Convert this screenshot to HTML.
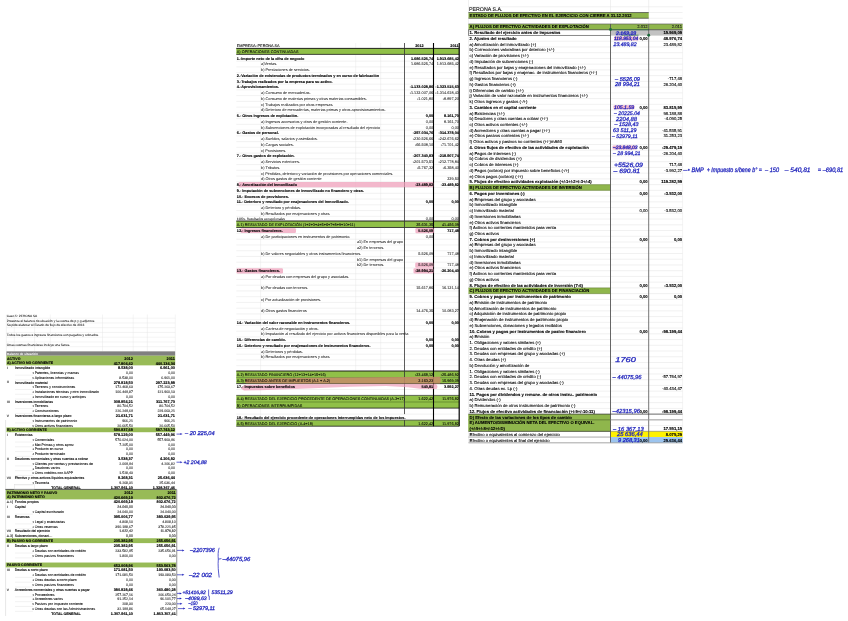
<!DOCTYPE html>
<html lang="es">
<head>
<meta charset="utf-8">
<title>PERONA S.A. - Estado de flujos de efectivo</title>
<style>
html,body{margin:0;padding:0;background:#fff;}
body{width:848px;height:621px;overflow:hidden;font-family:"Liberation Sans",sans-serif;}
svg{display:block;}
svg text{white-space:pre;}
</style>
</head>
<body>
<svg width="848" height="621" viewBox="0 0 848 621" font-family="'Liberation Sans', sans-serif" text-rendering="geometricPrecision">
<rect width="848" height="621" fill="#fff"/>
<g id="gridl">
<line x1="468.50" y1="6.79" x2="682.60" y2="6.79" stroke="#e2e2e2" stroke-width="0.5"/>
<line x1="468.50" y1="12.53" x2="682.60" y2="12.53" stroke="#e2e2e2" stroke-width="0.5"/>
<line x1="468.50" y1="18.26" x2="682.60" y2="18.26" stroke="#e2e2e2" stroke-width="0.5"/>
<line x1="468.50" y1="24.00" x2="682.60" y2="24.00" stroke="#e2e2e2" stroke-width="0.5"/>
<line x1="468.50" y1="29.74" x2="682.60" y2="29.74" stroke="#e2e2e2" stroke-width="0.5"/>
<line x1="468.50" y1="35.48" x2="682.60" y2="35.48" stroke="#e2e2e2" stroke-width="0.5"/>
<line x1="468.50" y1="41.21" x2="682.60" y2="41.21" stroke="#e2e2e2" stroke-width="0.5"/>
<line x1="468.50" y1="46.95" x2="682.60" y2="46.95" stroke="#e2e2e2" stroke-width="0.5"/>
<line x1="468.50" y1="52.69" x2="682.60" y2="52.69" stroke="#e2e2e2" stroke-width="0.5"/>
<line x1="468.50" y1="58.42" x2="682.60" y2="58.42" stroke="#e2e2e2" stroke-width="0.5"/>
<line x1="468.50" y1="64.16" x2="682.60" y2="64.16" stroke="#e2e2e2" stroke-width="0.5"/>
<line x1="468.50" y1="69.90" x2="682.60" y2="69.90" stroke="#e2e2e2" stroke-width="0.5"/>
<line x1="468.50" y1="75.63" x2="682.60" y2="75.63" stroke="#e2e2e2" stroke-width="0.5"/>
<line x1="468.50" y1="81.37" x2="682.60" y2="81.37" stroke="#e2e2e2" stroke-width="0.5"/>
<line x1="468.50" y1="87.11" x2="682.60" y2="87.11" stroke="#e2e2e2" stroke-width="0.5"/>
<line x1="468.50" y1="92.85" x2="682.60" y2="92.85" stroke="#e2e2e2" stroke-width="0.5"/>
<line x1="468.50" y1="98.58" x2="682.60" y2="98.58" stroke="#e2e2e2" stroke-width="0.5"/>
<line x1="468.50" y1="104.32" x2="682.60" y2="104.32" stroke="#e2e2e2" stroke-width="0.5"/>
<line x1="468.50" y1="110.06" x2="682.60" y2="110.06" stroke="#e2e2e2" stroke-width="0.5"/>
<line x1="468.50" y1="115.79" x2="682.60" y2="115.79" stroke="#e2e2e2" stroke-width="0.5"/>
<line x1="468.50" y1="121.53" x2="682.60" y2="121.53" stroke="#e2e2e2" stroke-width="0.5"/>
<line x1="468.50" y1="127.27" x2="682.60" y2="127.27" stroke="#e2e2e2" stroke-width="0.5"/>
<line x1="468.50" y1="133.00" x2="682.60" y2="133.00" stroke="#e2e2e2" stroke-width="0.5"/>
<line x1="468.50" y1="138.74" x2="682.60" y2="138.74" stroke="#e2e2e2" stroke-width="0.5"/>
<line x1="468.50" y1="144.48" x2="682.60" y2="144.48" stroke="#e2e2e2" stroke-width="0.5"/>
<line x1="468.50" y1="150.22" x2="682.60" y2="150.22" stroke="#e2e2e2" stroke-width="0.5"/>
<line x1="468.50" y1="155.95" x2="682.60" y2="155.95" stroke="#e2e2e2" stroke-width="0.5"/>
<line x1="468.50" y1="161.69" x2="682.60" y2="161.69" stroke="#e2e2e2" stroke-width="0.5"/>
<line x1="468.50" y1="167.43" x2="682.60" y2="167.43" stroke="#e2e2e2" stroke-width="0.5"/>
<line x1="468.50" y1="173.16" x2="682.60" y2="173.16" stroke="#e2e2e2" stroke-width="0.5"/>
<line x1="468.50" y1="178.90" x2="682.60" y2="178.90" stroke="#e2e2e2" stroke-width="0.5"/>
<line x1="468.50" y1="184.64" x2="682.60" y2="184.64" stroke="#e2e2e2" stroke-width="0.5"/>
<line x1="468.50" y1="190.37" x2="682.60" y2="190.37" stroke="#e2e2e2" stroke-width="0.5"/>
<line x1="468.50" y1="196.11" x2="682.60" y2="196.11" stroke="#e2e2e2" stroke-width="0.5"/>
<line x1="468.50" y1="201.85" x2="682.60" y2="201.85" stroke="#e2e2e2" stroke-width="0.5"/>
<line x1="468.50" y1="207.59" x2="682.60" y2="207.59" stroke="#e2e2e2" stroke-width="0.5"/>
<line x1="468.50" y1="213.32" x2="682.60" y2="213.32" stroke="#e2e2e2" stroke-width="0.5"/>
<line x1="468.50" y1="219.06" x2="682.60" y2="219.06" stroke="#e2e2e2" stroke-width="0.5"/>
<line x1="468.50" y1="224.80" x2="682.60" y2="224.80" stroke="#e2e2e2" stroke-width="0.5"/>
<line x1="468.50" y1="230.53" x2="682.60" y2="230.53" stroke="#e2e2e2" stroke-width="0.5"/>
<line x1="468.50" y1="236.27" x2="682.60" y2="236.27" stroke="#e2e2e2" stroke-width="0.5"/>
<line x1="468.50" y1="242.01" x2="682.60" y2="242.01" stroke="#e2e2e2" stroke-width="0.5"/>
<line x1="468.50" y1="247.74" x2="682.60" y2="247.74" stroke="#e2e2e2" stroke-width="0.5"/>
<line x1="468.50" y1="253.48" x2="682.60" y2="253.48" stroke="#e2e2e2" stroke-width="0.5"/>
<line x1="468.50" y1="259.22" x2="682.60" y2="259.22" stroke="#e2e2e2" stroke-width="0.5"/>
<line x1="468.50" y1="264.96" x2="682.60" y2="264.96" stroke="#e2e2e2" stroke-width="0.5"/>
<line x1="468.50" y1="270.69" x2="682.60" y2="270.69" stroke="#e2e2e2" stroke-width="0.5"/>
<line x1="468.50" y1="276.43" x2="682.60" y2="276.43" stroke="#e2e2e2" stroke-width="0.5"/>
<line x1="468.50" y1="282.17" x2="682.60" y2="282.17" stroke="#e2e2e2" stroke-width="0.5"/>
<line x1="468.50" y1="287.90" x2="682.60" y2="287.90" stroke="#e2e2e2" stroke-width="0.5"/>
<line x1="468.50" y1="293.64" x2="682.60" y2="293.64" stroke="#e2e2e2" stroke-width="0.5"/>
<line x1="468.50" y1="299.38" x2="682.60" y2="299.38" stroke="#e2e2e2" stroke-width="0.5"/>
<line x1="468.50" y1="305.11" x2="682.60" y2="305.11" stroke="#e2e2e2" stroke-width="0.5"/>
<line x1="468.50" y1="310.85" x2="682.60" y2="310.85" stroke="#e2e2e2" stroke-width="0.5"/>
<line x1="468.50" y1="316.59" x2="682.60" y2="316.59" stroke="#e2e2e2" stroke-width="0.5"/>
<line x1="468.50" y1="322.33" x2="682.60" y2="322.33" stroke="#e2e2e2" stroke-width="0.5"/>
<line x1="468.50" y1="328.06" x2="682.60" y2="328.06" stroke="#e2e2e2" stroke-width="0.5"/>
<line x1="468.50" y1="333.80" x2="682.60" y2="333.80" stroke="#e2e2e2" stroke-width="0.5"/>
<line x1="468.50" y1="339.54" x2="682.60" y2="339.54" stroke="#e2e2e2" stroke-width="0.5"/>
<line x1="468.50" y1="345.27" x2="682.60" y2="345.27" stroke="#e2e2e2" stroke-width="0.5"/>
<line x1="468.50" y1="351.01" x2="682.60" y2="351.01" stroke="#e2e2e2" stroke-width="0.5"/>
<line x1="468.50" y1="356.75" x2="682.60" y2="356.75" stroke="#e2e2e2" stroke-width="0.5"/>
<line x1="468.50" y1="362.48" x2="682.60" y2="362.48" stroke="#e2e2e2" stroke-width="0.5"/>
<line x1="468.50" y1="368.22" x2="682.60" y2="368.22" stroke="#e2e2e2" stroke-width="0.5"/>
<line x1="468.50" y1="373.96" x2="682.60" y2="373.96" stroke="#e2e2e2" stroke-width="0.5"/>
<line x1="468.50" y1="379.70" x2="682.60" y2="379.70" stroke="#e2e2e2" stroke-width="0.5"/>
<line x1="468.50" y1="385.43" x2="682.60" y2="385.43" stroke="#e2e2e2" stroke-width="0.5"/>
<line x1="468.50" y1="391.17" x2="682.60" y2="391.17" stroke="#e2e2e2" stroke-width="0.5"/>
<line x1="468.50" y1="396.91" x2="682.60" y2="396.91" stroke="#e2e2e2" stroke-width="0.5"/>
<line x1="468.50" y1="402.64" x2="682.60" y2="402.64" stroke="#e2e2e2" stroke-width="0.5"/>
<line x1="468.50" y1="408.38" x2="682.60" y2="408.38" stroke="#e2e2e2" stroke-width="0.5"/>
<line x1="468.50" y1="414.12" x2="682.60" y2="414.12" stroke="#e2e2e2" stroke-width="0.5"/>
<line x1="468.50" y1="419.85" x2="682.60" y2="419.85" stroke="#e2e2e2" stroke-width="0.5"/>
<line x1="468.50" y1="425.59" x2="682.60" y2="425.59" stroke="#e2e2e2" stroke-width="0.5"/>
<line x1="468.50" y1="431.33" x2="682.60" y2="431.33" stroke="#e2e2e2" stroke-width="0.5"/>
<line x1="468.50" y1="437.07" x2="682.60" y2="437.07" stroke="#e2e2e2" stroke-width="0.5"/>
<line x1="468.50" y1="442.80" x2="682.60" y2="442.80" stroke="#e2e2e2" stroke-width="0.5"/>
<line x1="468.50" y1="0.00" x2="468.50" y2="442.80" stroke="#e2e2e2" stroke-width="0.5"/>
<line x1="610.50" y1="0.00" x2="610.50" y2="29.74" stroke="#e2e2e2" stroke-width="0.5"/>
<line x1="648.70" y1="0.00" x2="648.70" y2="29.74" stroke="#e2e2e2" stroke-width="0.5"/>
<line x1="682.60" y1="24.00" x2="682.60" y2="442.80" stroke="#e2e2e2" stroke-width="0.4"/>
<line x1="236.30" y1="48.47" x2="459.20" y2="48.47" stroke="#e2e2e2" stroke-width="0.45"/>
<line x1="236.30" y1="54.40" x2="459.20" y2="54.40" stroke="#e2e2e2" stroke-width="0.45"/>
<line x1="236.30" y1="61.17" x2="459.20" y2="61.17" stroke="#e2e2e2" stroke-width="0.45"/>
<line x1="236.30" y1="66.92" x2="459.20" y2="66.92" stroke="#e2e2e2" stroke-width="0.45"/>
<line x1="236.30" y1="72.66" x2="459.20" y2="72.66" stroke="#e2e2e2" stroke-width="0.45"/>
<line x1="236.30" y1="78.41" x2="459.20" y2="78.41" stroke="#e2e2e2" stroke-width="0.45"/>
<line x1="236.30" y1="84.15" x2="459.20" y2="84.15" stroke="#e2e2e2" stroke-width="0.45"/>
<line x1="236.30" y1="89.90" x2="459.20" y2="89.90" stroke="#e2e2e2" stroke-width="0.45"/>
<line x1="236.30" y1="95.64" x2="459.20" y2="95.64" stroke="#e2e2e2" stroke-width="0.45"/>
<line x1="236.30" y1="101.39" x2="459.20" y2="101.39" stroke="#e2e2e2" stroke-width="0.45"/>
<line x1="236.30" y1="107.13" x2="459.20" y2="107.13" stroke="#e2e2e2" stroke-width="0.45"/>
<line x1="236.30" y1="112.88" x2="459.20" y2="112.88" stroke="#e2e2e2" stroke-width="0.45"/>
<line x1="236.30" y1="118.62" x2="459.20" y2="118.62" stroke="#e2e2e2" stroke-width="0.45"/>
<line x1="236.30" y1="124.37" x2="459.20" y2="124.37" stroke="#e2e2e2" stroke-width="0.45"/>
<line x1="236.30" y1="130.11" x2="459.20" y2="130.11" stroke="#e2e2e2" stroke-width="0.45"/>
<line x1="236.30" y1="135.86" x2="459.20" y2="135.86" stroke="#e2e2e2" stroke-width="0.45"/>
<line x1="236.30" y1="141.60" x2="459.20" y2="141.60" stroke="#e2e2e2" stroke-width="0.45"/>
<line x1="236.30" y1="147.34" x2="459.20" y2="147.34" stroke="#e2e2e2" stroke-width="0.45"/>
<line x1="236.30" y1="153.09" x2="459.20" y2="153.09" stroke="#e2e2e2" stroke-width="0.45"/>
<line x1="236.30" y1="158.84" x2="459.20" y2="158.84" stroke="#e2e2e2" stroke-width="0.45"/>
<line x1="236.30" y1="164.58" x2="459.20" y2="164.58" stroke="#e2e2e2" stroke-width="0.45"/>
<line x1="236.30" y1="170.32" x2="459.20" y2="170.32" stroke="#e2e2e2" stroke-width="0.45"/>
<line x1="236.30" y1="176.07" x2="459.20" y2="176.07" stroke="#e2e2e2" stroke-width="0.45"/>
<line x1="236.30" y1="181.81" x2="459.20" y2="181.81" stroke="#e2e2e2" stroke-width="0.45"/>
<line x1="236.30" y1="187.56" x2="459.20" y2="187.56" stroke="#e2e2e2" stroke-width="0.45"/>
<line x1="236.30" y1="193.31" x2="459.20" y2="193.31" stroke="#e2e2e2" stroke-width="0.45"/>
<line x1="236.30" y1="199.05" x2="459.20" y2="199.05" stroke="#e2e2e2" stroke-width="0.45"/>
<line x1="236.30" y1="204.80" x2="459.20" y2="204.80" stroke="#e2e2e2" stroke-width="0.45"/>
<line x1="236.30" y1="210.54" x2="459.20" y2="210.54" stroke="#e2e2e2" stroke-width="0.45"/>
<line x1="236.30" y1="216.29" x2="459.20" y2="216.29" stroke="#e2e2e2" stroke-width="0.45"/>
<line x1="236.30" y1="221.57" x2="459.20" y2="221.57" stroke="#e2e2e2" stroke-width="0.45"/>
<line x1="236.30" y1="227.50" x2="459.20" y2="227.50" stroke="#e2e2e2" stroke-width="0.45"/>
<line x1="236.30" y1="233.47" x2="459.20" y2="233.47" stroke="#e2e2e2" stroke-width="0.45"/>
<line x1="236.30" y1="239.22" x2="459.20" y2="239.22" stroke="#e2e2e2" stroke-width="0.45"/>
<line x1="236.30" y1="244.97" x2="459.20" y2="244.97" stroke="#e2e2e2" stroke-width="0.45"/>
<line x1="236.30" y1="250.71" x2="459.20" y2="250.71" stroke="#e2e2e2" stroke-width="0.45"/>
<line x1="236.30" y1="256.46" x2="459.20" y2="256.46" stroke="#e2e2e2" stroke-width="0.45"/>
<line x1="236.30" y1="262.21" x2="459.20" y2="262.21" stroke="#e2e2e2" stroke-width="0.45"/>
<line x1="236.30" y1="267.96" x2="459.20" y2="267.96" stroke="#e2e2e2" stroke-width="0.45"/>
<line x1="236.30" y1="273.71" x2="459.20" y2="273.71" stroke="#e2e2e2" stroke-width="0.45"/>
<line x1="236.30" y1="279.45" x2="459.20" y2="279.45" stroke="#e2e2e2" stroke-width="0.45"/>
<line x1="236.30" y1="285.20" x2="459.20" y2="285.20" stroke="#e2e2e2" stroke-width="0.45"/>
<line x1="236.30" y1="290.95" x2="459.20" y2="290.95" stroke="#e2e2e2" stroke-width="0.45"/>
<line x1="236.30" y1="296.70" x2="459.20" y2="296.70" stroke="#e2e2e2" stroke-width="0.45"/>
<line x1="236.30" y1="302.45" x2="459.20" y2="302.45" stroke="#e2e2e2" stroke-width="0.45"/>
<line x1="236.30" y1="308.19" x2="459.20" y2="308.19" stroke="#e2e2e2" stroke-width="0.45"/>
<line x1="236.30" y1="313.94" x2="459.20" y2="313.94" stroke="#e2e2e2" stroke-width="0.45"/>
<line x1="236.30" y1="319.69" x2="459.20" y2="319.69" stroke="#e2e2e2" stroke-width="0.45"/>
<line x1="236.30" y1="325.44" x2="459.20" y2="325.44" stroke="#e2e2e2" stroke-width="0.45"/>
<line x1="236.30" y1="331.19" x2="459.20" y2="331.19" stroke="#e2e2e2" stroke-width="0.45"/>
<line x1="236.30" y1="336.93" x2="459.20" y2="336.93" stroke="#e2e2e2" stroke-width="0.45"/>
<line x1="236.30" y1="342.68" x2="459.20" y2="342.68" stroke="#e2e2e2" stroke-width="0.45"/>
<line x1="236.30" y1="348.43" x2="459.20" y2="348.43" stroke="#e2e2e2" stroke-width="0.45"/>
<line x1="236.30" y1="354.18" x2="459.20" y2="354.18" stroke="#e2e2e2" stroke-width="0.45"/>
<line x1="236.30" y1="359.93" x2="459.20" y2="359.93" stroke="#e2e2e2" stroke-width="0.45"/>
<line x1="236.30" y1="365.67" x2="459.20" y2="365.67" stroke="#e2e2e2" stroke-width="0.45"/>
<line x1="236.30" y1="371.42" x2="459.20" y2="371.42" stroke="#e2e2e2" stroke-width="0.45"/>
<line x1="236.30" y1="377.60" x2="459.20" y2="377.60" stroke="#e2e2e2" stroke-width="0.45"/>
<line x1="236.30" y1="383.60" x2="459.20" y2="383.60" stroke="#e2e2e2" stroke-width="0.45"/>
<line x1="236.30" y1="389.50" x2="459.20" y2="389.50" stroke="#e2e2e2" stroke-width="0.45"/>
<line x1="236.30" y1="395.40" x2="459.20" y2="395.40" stroke="#e2e2e2" stroke-width="0.45"/>
<line x1="236.30" y1="402.00" x2="459.20" y2="402.00" stroke="#e2e2e2" stroke-width="0.45"/>
<line x1="236.30" y1="408.10" x2="459.20" y2="408.10" stroke="#e2e2e2" stroke-width="0.45"/>
<line x1="236.30" y1="414.10" x2="459.20" y2="414.10" stroke="#e2e2e2" stroke-width="0.45"/>
<line x1="236.30" y1="420.10" x2="459.20" y2="420.10" stroke="#e2e2e2" stroke-width="0.45"/>
<line x1="236.30" y1="426.20" x2="459.20" y2="426.20" stroke="#e2e2e2" stroke-width="0.45"/>
<line x1="260.60" y1="55.00" x2="260.60" y2="426.20" stroke="#e2e2e2" stroke-width="0.4"/>
<line x1="355.70" y1="43.00" x2="355.70" y2="371.00" stroke="#e2e2e2" stroke-width="0.4"/>
<line x1="380.70" y1="43.00" x2="380.70" y2="371.00" stroke="#e2e2e2" stroke-width="0.4"/>
<line x1="236.30" y1="48.40" x2="459.20" y2="48.40" stroke="#e2e2e2" stroke-width="0.45"/>
<line x1="6.40" y1="318.20" x2="175.20" y2="318.20" stroke="#e2e2e2" stroke-width="0.4"/>
<line x1="6.40" y1="322.95" x2="175.20" y2="322.95" stroke="#e2e2e2" stroke-width="0.4"/>
<line x1="6.40" y1="327.70" x2="175.20" y2="327.70" stroke="#e2e2e2" stroke-width="0.4"/>
<line x1="6.40" y1="332.45" x2="175.20" y2="332.45" stroke="#e2e2e2" stroke-width="0.4"/>
<line x1="6.40" y1="337.20" x2="175.20" y2="337.20" stroke="#e2e2e2" stroke-width="0.4"/>
<line x1="6.40" y1="341.95" x2="175.20" y2="341.95" stroke="#e2e2e2" stroke-width="0.4"/>
<line x1="6.40" y1="346.70" x2="175.20" y2="346.70" stroke="#e2e2e2" stroke-width="0.4"/>
<line x1="6.40" y1="314.50" x2="6.40" y2="351.30" stroke="#e2e2e2" stroke-width="0.4"/>
<line x1="14.30" y1="314.50" x2="14.30" y2="351.30" stroke="#e2e2e2" stroke-width="0.4"/>
<line x1="34.60" y1="314.50" x2="34.60" y2="351.30" stroke="#e2e2e2" stroke-width="0.4"/>
<line x1="50.30" y1="314.50" x2="50.30" y2="351.30" stroke="#e2e2e2" stroke-width="0.4"/>
<line x1="102.50" y1="314.50" x2="102.50" y2="351.30" stroke="#e2e2e2" stroke-width="0.4"/>
<line x1="133.20" y1="314.50" x2="133.20" y2="351.30" stroke="#e2e2e2" stroke-width="0.4"/>
<line x1="147.40" y1="314.50" x2="147.40" y2="351.30" stroke="#e2e2e2" stroke-width="0.4"/>
<line x1="175.30" y1="314.50" x2="175.30" y2="351.30" stroke="#e2e2e2" stroke-width="0.4"/>
</g>
<g id="fills">
<rect x="468.50" y="12.53" width="180.20" height="5.74" fill="#8fb64c" />
<rect x="468.50" y="24.00" width="214.10" height="5.74" fill="#8fb64c" />
<rect x="468.50" y="184.64" width="142.00" height="5.74" fill="#8fb64c" />
<rect x="468.50" y="287.90" width="142.00" height="5.74" fill="#8fb64c" />
<rect x="468.50" y="414.12" width="142.00" height="5.74" fill="#8fb64c" />
<rect x="468.50" y="419.85" width="142.00" height="5.74" fill="#8fb64c" />
<rect x="468.50" y="425.59" width="142.00" height="5.74" fill="#8fb64c" />
<rect x="468.50" y="414.12" width="142.00" height="17.21" fill="#8fb64c" />
<rect x="610.50" y="29.74" width="72.10" height="5.74" fill="#c2c2c2" />
<rect x="610.50" y="431.33" width="72.10" height="5.74" fill="#fff200" />
<rect x="610.50" y="437.07" width="72.10" height="5.74" fill="#9cc4ee" />
<rect x="236.30" y="48.40" width="222.90" height="6.00" fill="#90c048" />
<rect x="236.30" y="221.00" width="222.90" height="6.50" fill="#90c048" />
<rect x="236.30" y="371.00" width="222.90" height="6.60" fill="#90c048" />
<rect x="236.30" y="377.60" width="222.90" height="6.00" fill="#90c048" />
<rect x="236.30" y="395.40" width="222.90" height="6.60" fill="#90c048" />
<rect x="236.30" y="402.00" width="222.90" height="6.10" fill="#90c048" />
<rect x="236.30" y="420.10" width="222.90" height="6.10" fill="#90c048" />
<rect x="6.40" y="351.35" width="168.80" height="4.40" fill="#808080" />
<rect x="6.40" y="355.70" width="168.80" height="9.66" fill="#98bb57" />
<rect x="6.40" y="427.44" width="168.80" height="4.77" fill="#98bb57" />
<rect x="5.60" y="489.67" width="170.60" height="9.72" fill="#98bb57" />
<rect x="5.60" y="538.25" width="170.60" height="4.86" fill="#98bb57" />
<rect x="5.60" y="562.54" width="170.60" height="4.86" fill="#98bb57" />
</g>
<g id="grid">
<line x1="468.50" y1="12.53" x2="648.70" y2="12.53" stroke="#444" stroke-width="0.7"/>
<line x1="468.50" y1="18.26" x2="648.70" y2="18.26" stroke="#444" stroke-width="0.7"/>
<line x1="468.50" y1="24.00" x2="682.60" y2="24.00" stroke="#555" stroke-width="0.6"/>
<line x1="610.50" y1="24.00" x2="610.50" y2="442.80" stroke="#555" stroke-width="0.9"/>
<line x1="648.70" y1="24.00" x2="648.70" y2="442.80" stroke="#666" stroke-width="0.9"/>
<line x1="468.50" y1="184.64" x2="610.50" y2="184.64" stroke="#5f7a2c" stroke-width="0.5"/>
<line x1="468.50" y1="190.37" x2="610.50" y2="190.37" stroke="#5f7a2c" stroke-width="0.5"/>
<line x1="468.50" y1="287.90" x2="610.50" y2="287.90" stroke="#5f7a2c" stroke-width="0.5"/>
<line x1="468.50" y1="293.64" x2="610.50" y2="293.64" stroke="#5f7a2c" stroke-width="0.5"/>
<line x1="468.50" y1="414.12" x2="682.60" y2="414.12" stroke="#333" stroke-width="0.7"/>
<line x1="468.50" y1="419.85" x2="610.50" y2="419.85" stroke="#4d5f2a" stroke-width="0.6"/>
<line x1="610.50" y1="419.85" x2="682.60" y2="419.85" stroke="#999" stroke-width="0.9"/>
<line x1="468.50" y1="431.33" x2="610.50" y2="431.33" stroke="#333" stroke-width="0.7"/>
<line x1="610.50" y1="431.33" x2="682.60" y2="431.33" stroke="#666" stroke-width="0.5"/>
<line x1="468.50" y1="437.07" x2="610.50" y2="437.07" stroke="#666" stroke-width="0.5"/>
<line x1="468.50" y1="442.80" x2="682.60" y2="442.80" stroke="#999" stroke-width="0.8"/>
<line x1="468.50" y1="29.74" x2="682.60" y2="29.74" stroke="#333" stroke-width="0.7"/>
<line x1="468.50" y1="35.48" x2="610.50" y2="35.48" stroke="#444" stroke-width="0.6"/>
<line x1="468.50" y1="29.74" x2="468.50" y2="35.48" stroke="#444" stroke-width="0.6"/>
<line x1="236.30" y1="48.40" x2="459.20" y2="48.40" stroke="#111" stroke-width="0.9"/>
<line x1="236.30" y1="54.40" x2="459.20" y2="54.40" stroke="#222" stroke-width="0.8"/>
<line x1="236.30" y1="221.00" x2="459.20" y2="221.00" stroke="#111" stroke-width="0.9"/>
<line x1="236.30" y1="227.50" x2="459.20" y2="227.50" stroke="#222" stroke-width="0.8"/>
<line x1="236.30" y1="371.00" x2="459.20" y2="371.00" stroke="#111" stroke-width="0.9"/>
<line x1="236.30" y1="377.60" x2="459.20" y2="377.60" stroke="#4f6f22" stroke-width="0.6"/>
<line x1="236.30" y1="383.60" x2="459.20" y2="383.60" stroke="#222" stroke-width="0.8"/>
<line x1="236.30" y1="395.40" x2="459.20" y2="395.40" stroke="#3a3a3a" stroke-width="0.7"/>
<line x1="236.30" y1="402.00" x2="459.20" y2="402.00" stroke="#4f6f22" stroke-width="0.6"/>
<line x1="236.30" y1="408.10" x2="459.20" y2="408.10" stroke="#222" stroke-width="0.8"/>
<line x1="236.30" y1="420.10" x2="459.20" y2="420.10" stroke="#3a3a3a" stroke-width="0.7"/>
<line x1="236.30" y1="426.20" x2="459.20" y2="426.20" stroke="#222" stroke-width="0.8"/>
<line x1="404.50" y1="43.00" x2="404.50" y2="414.10" stroke="#333" stroke-width="0.8"/>
<line x1="404.50" y1="420.10" x2="404.50" y2="426.20" stroke="#333" stroke-width="0.8"/>
<line x1="433.50" y1="43.00" x2="433.50" y2="426.20" stroke="#000" stroke-width="1.1"/>
<line x1="459.20" y1="43.00" x2="459.20" y2="426.20" stroke="#000" stroke-width="1.2"/>
<line x1="15.00" y1="375.17" x2="33.00" y2="375.17" stroke="#dedede" stroke-width="0.4"/>
<line x1="15.00" y1="379.95" x2="33.00" y2="379.95" stroke="#dedede" stroke-width="0.4"/>
<line x1="15.00" y1="389.50" x2="33.00" y2="389.50" stroke="#dedede" stroke-width="0.4"/>
<line x1="15.00" y1="394.27" x2="33.00" y2="394.27" stroke="#dedede" stroke-width="0.4"/>
<line x1="15.00" y1="399.05" x2="33.00" y2="399.05" stroke="#dedede" stroke-width="0.4"/>
<line x1="15.00" y1="408.60" x2="33.00" y2="408.60" stroke="#dedede" stroke-width="0.4"/>
<line x1="15.00" y1="413.38" x2="33.00" y2="413.38" stroke="#dedede" stroke-width="0.4"/>
<line x1="15.00" y1="422.92" x2="33.00" y2="422.92" stroke="#dedede" stroke-width="0.4"/>
<line x1="15.00" y1="427.70" x2="33.00" y2="427.70" stroke="#dedede" stroke-width="0.4"/>
<line x1="15.00" y1="442.02" x2="33.00" y2="442.02" stroke="#dedede" stroke-width="0.4"/>
<line x1="15.00" y1="446.80" x2="33.00" y2="446.80" stroke="#dedede" stroke-width="0.4"/>
<line x1="15.00" y1="451.57" x2="33.00" y2="451.57" stroke="#dedede" stroke-width="0.4"/>
<line x1="15.00" y1="456.35" x2="33.00" y2="456.35" stroke="#dedede" stroke-width="0.4"/>
<line x1="15.00" y1="465.90" x2="33.00" y2="465.90" stroke="#dedede" stroke-width="0.4"/>
<line x1="15.00" y1="470.67" x2="33.00" y2="470.67" stroke="#dedede" stroke-width="0.4"/>
<line x1="15.00" y1="475.45" x2="33.00" y2="475.45" stroke="#dedede" stroke-width="0.4"/>
<line x1="15.00" y1="485.00" x2="33.00" y2="485.00" stroke="#dedede" stroke-width="0.4"/>
<line x1="15.00" y1="514.18" x2="33.00" y2="514.18" stroke="#dedede" stroke-width="0.4"/>
<line x1="15.00" y1="523.90" x2="33.00" y2="523.90" stroke="#dedede" stroke-width="0.4"/>
<line x1="15.00" y1="528.76" x2="33.00" y2="528.76" stroke="#dedede" stroke-width="0.4"/>
<line x1="15.00" y1="553.05" x2="33.00" y2="553.05" stroke="#dedede" stroke-width="0.4"/>
<line x1="15.00" y1="557.90" x2="33.00" y2="557.90" stroke="#dedede" stroke-width="0.4"/>
<line x1="15.00" y1="577.34" x2="33.00" y2="577.34" stroke="#dedede" stroke-width="0.4"/>
<line x1="15.00" y1="582.19" x2="33.00" y2="582.19" stroke="#dedede" stroke-width="0.4"/>
<line x1="15.00" y1="587.05" x2="33.00" y2="587.05" stroke="#dedede" stroke-width="0.4"/>
<line x1="15.00" y1="596.77" x2="33.00" y2="596.77" stroke="#dedede" stroke-width="0.4"/>
<line x1="15.00" y1="601.63" x2="33.00" y2="601.63" stroke="#dedede" stroke-width="0.4"/>
<line x1="15.00" y1="606.48" x2="33.00" y2="606.48" stroke="#dedede" stroke-width="0.4"/>
<line x1="15.00" y1="611.34" x2="33.00" y2="611.34" stroke="#dedede" stroke-width="0.4"/>
<line x1="176.75" y1="489.67" x2="176.75" y2="615.78" stroke="#777" stroke-width="0.8"/>
<line x1="5.60" y1="420.00" x2="5.60" y2="615.98" stroke="#cfcfcf" stroke-width="0.5"/>
<line x1="5.40" y1="489.41" x2="176.60" y2="489.41" stroke="#4a4a4a" stroke-width="0.9"/>
<rect x="14.20" y="484.74" width="20.40" height="4.60" fill="none" stroke="#d4d4d4" stroke-width="0.4"/>
</g>
<g id="hl">
<rect x="614.00" y="36.38" width="24.50" height="4.14" fill="#ee9db8" opacity="0.75" rx="1"/>
<rect x="613.50" y="105.22" width="21.00" height="4.14" fill="#ee9db8" opacity="0.75" rx="1"/>
<rect x="612.50" y="145.38" width="24.00" height="4.14" fill="#ee9db8" opacity="0.75" rx="1"/>
<rect x="238.50" y="182.12" width="194.80" height="5.24" fill="#ee9db8" opacity="0.72" rx="1.2"/>
<rect x="240.50" y="228.13" width="55.50" height="4.94" fill="#ee9db8" opacity="0.72" rx="1.2"/>
<rect x="415.40" y="228.03" width="18.60" height="5.14" fill="#ee9db8" opacity="0.72" rx="1.2"/>
<rect x="415.20" y="262.52" width="18.30" height="5.14" fill="#ee9db8" opacity="0.72" rx="1.2"/>
<rect x="236.50" y="268.27" width="46.50" height="5.14" fill="#ee9db8" opacity="0.72" rx="1.2"/>
<rect x="413.50" y="268.27" width="20.00" height="5.14" fill="#ee9db8" opacity="0.72" rx="1.2"/>
<path d="M246,378.5 L300,378.1 L405,376.9 L440,376.7 Q441.6,380 440,383.5 L405,383.5 L300,383.4 L246,383.3 Q244.4,380.8 246,378.5 Z" fill="#c68b69" opacity="0.85"/>
<path d="M240.8,388.6 L244,385.0 L300,384.2 L436,383.9 Q438.6,386.2 436.5,389.0 L422,388.9 L408,387.2 L386,385.9 L350,386.8 L300,388.8 L260,390.3 L244,390.4 Z" fill="#ee9db8" opacity="0.7"/>
</g>
<defs><filter id="sf" x="0" y="0" width="848" height="621" filterUnits="userSpaceOnUse"><feGaussianBlur stdDeviation="0.22"/></filter></defs>
<g id="txt" filter="url(#sf)" stroke="#000" stroke-width="0.13" stroke-opacity="0.8">
<text x="468.90" y="11.19" font-size="5.3" fill="#1a1a1a" >PERONA S.A.</text>
<text x="469.60" y="17.00" font-size="4.22" font-weight="bold" >ESTADO DE FLUJOS DE EFECTIVO EN EL EJERCICIO CON CIERRE A 31.12.2012</text>
<text x="469.60" y="28.48" font-size="4.22" font-weight="bold" >A) FLUJOS DE EFECTIVO ACTIVIDADES DE EXPLOTACIÓN</text>
<text x="647.70" y="28.48" font-size="4.22" text-anchor="end" fill="#333" >2.012</text>
<text x="682.00" y="28.48" font-size="4.22" text-anchor="end" fill="#333" >2.011</text>
<text x="469.60" y="34.21" font-size="4.22" font-weight="bold" >1. Resultado del ejercicio antes de impuestos</text>
<text x="682.10" y="34.21" font-size="4.22" text-anchor="end" font-weight="bold" >15.969,09</text>
<text x="469.60" y="39.95" font-size="4.22" font-weight="bold" >2. Ajustes del resultado</text>
<text x="647.70" y="39.95" font-size="4.22" text-anchor="end" font-weight="bold" >0,00</text>
<text x="682.10" y="39.95" font-size="4.22" text-anchor="end" font-weight="bold" >48.976,74</text>
<text x="469.60" y="45.69" font-size="4.22" >a) Amortización del inmovilizado (+)</text>
<text x="682.10" y="45.69" font-size="4.22" text-anchor="end" >23.489,82</text>
<text x="469.60" y="51.42" font-size="4.22" >b) Correcciones valorativas por deterioro (+/-)</text>
<text x="469.60" y="57.16" font-size="4.22" >c) Variación de provisiones (+/-)</text>
<text x="469.60" y="62.90" font-size="4.22" >d) Imputación de subvenciones (-)</text>
<text x="469.60" y="68.63" font-size="4.22" >e) Resultados por bajas y enajenaciones del inmovilizado (+/-)</text>
<text x="469.60" y="74.37" font-size="4.22" >f) Resultados por bajas y enajenac. de instrumentos financieros (+/-)</text>
<text x="469.60" y="80.11" font-size="4.22" >g) Ingresos financieros (-)</text>
<text x="682.10" y="80.11" font-size="4.22" text-anchor="end" >-717,48</text>
<text x="469.60" y="85.85" font-size="4.22" >h) Gastos financieros (+)</text>
<text x="682.10" y="85.85" font-size="4.22" text-anchor="end" >26.204,40</text>
<text x="469.60" y="91.58" font-size="4.22" >i) Diferencias de cambio (+/-)</text>
<text x="469.60" y="97.32" font-size="4.22" >j) Variación de valor razonable en instrumentos financieros (+/-)</text>
<text x="469.60" y="103.06" font-size="4.22" >k) Otros ingresos y gastos (-/+)</text>
<text x="469.60" y="108.79" font-size="4.22" font-weight="bold" >3. Cambios en el capital corriente</text>
<text x="647.70" y="108.79" font-size="4.22" text-anchor="end" font-weight="bold" >0,00</text>
<text x="682.10" y="108.79" font-size="4.22" text-anchor="end" font-weight="bold" >83.815,95</text>
<text x="469.60" y="114.53" font-size="4.22" >a) Existencias (+/-)</text>
<text x="682.10" y="114.53" font-size="4.22" text-anchor="end" >98.188,88</text>
<text x="469.60" y="120.27" font-size="4.22" >b) Deudores y otras cuentas a cobrar (+/-)</text>
<text x="682.10" y="120.27" font-size="4.22" text-anchor="end" >-4.090,25</text>
<text x="469.60" y="126.00" font-size="4.22" >c) Otros activos corrientes (+/-)</text>
<text x="469.60" y="131.74" font-size="4.22" >d) Acreedores y otras cuentas a pagar (+/-)</text>
<text x="682.10" y="131.74" font-size="4.22" text-anchor="end" >-41.535,91</text>
<text x="469.60" y="137.48" font-size="4.22" >e) Otros pasivos corrientes (+/-)</text>
<text x="682.10" y="137.48" font-size="4.22" text-anchor="end" >31.253,23</text>
<text x="469.60" y="143.22" font-size="4.22" >f) Otros activos y pasivos no corrientes (+/-)mA60</text>
<text x="469.60" y="148.95" font-size="4.22" font-weight="bold" >4. Otros flujos de efectivo de las actividades de explotación</text>
<text x="647.70" y="148.95" font-size="4.22" text-anchor="end" font-weight="bold" >0,00</text>
<text x="682.10" y="148.95" font-size="4.22" text-anchor="end" font-weight="bold" >-29.479,19</text>
<text x="469.60" y="154.69" font-size="4.22" >a) Pagos de intereses (-)</text>
<text x="682.10" y="154.69" font-size="4.22" text-anchor="end" >-26.204,40</text>
<text x="469.60" y="160.43" font-size="4.22" >b) Cobros de dividendos (+)</text>
<text x="469.60" y="166.16" font-size="4.22" >c) Cobros de intereses (+)</text>
<text x="682.10" y="166.16" font-size="4.22" text-anchor="end" >717,48</text>
<text x="469.60" y="171.90" font-size="4.22" >d) Pagos (cobros) por impuesto sobre beneficios (-/+)</text>
<text x="682.10" y="171.90" font-size="4.22" text-anchor="end" >-3.992,27</text>
<text x="469.60" y="177.64" font-size="4.22" >e) Otros pagos (cobros) (-/+)</text>
<text x="469.60" y="183.37" font-size="4.22" font-weight="bold" >5. Flujos de efectivo actividades explotación (+/-1+/-2+/-3+/-4)</text>
<text x="647.70" y="183.37" font-size="4.22" text-anchor="end" font-weight="bold" >0,00</text>
<text x="682.10" y="183.37" font-size="4.22" text-anchor="end" font-weight="bold" >119.282,59</text>
<text x="469.60" y="189.11" font-size="4.22" font-weight="bold" >B) FLUJOS DE EFECTIVO ACTIVIDADES DE INVERSIÓN</text>
<text x="469.60" y="194.85" font-size="4.22" font-weight="bold" >6. Pagos por inversiones (-)</text>
<text x="647.70" y="194.85" font-size="4.22" text-anchor="end" font-weight="bold" >0,00</text>
<text x="682.10" y="194.85" font-size="4.22" text-anchor="end" font-weight="bold" >-3.532,00</text>
<text x="469.60" y="200.59" font-size="4.22" >a) Empresas del grupo y asociadas</text>
<text x="469.60" y="206.32" font-size="4.22" >b) Inmovilizado intangible</text>
<text x="469.60" y="212.06" font-size="4.22" >c) Inmovilizado material</text>
<text x="647.70" y="212.06" font-size="4.22" text-anchor="end" >0,00</text>
<text x="682.10" y="212.06" font-size="4.22" text-anchor="end" >-3.532,00</text>
<text x="469.60" y="217.80" font-size="4.22" >d) Inversiones inmobiliarias</text>
<text x="469.60" y="223.53" font-size="4.22" >e) Otros activos financieros</text>
<text x="469.60" y="229.27" font-size="4.22" >f) Activos no corrientes mantenidos para venta</text>
<text x="469.60" y="235.01" font-size="4.22" >g) Otros activos</text>
<text x="469.60" y="240.74" font-size="4.22" font-weight="bold" >7. Cobros por desinversiones (+)</text>
<text x="647.70" y="240.74" font-size="4.22" text-anchor="end" font-weight="bold" >0,00</text>
<text x="682.10" y="240.74" font-size="4.22" text-anchor="end" font-weight="bold" >0,00</text>
<text x="469.60" y="246.48" font-size="4.22" >a) Empresas del grupo y asociadas</text>
<text x="469.60" y="252.22" font-size="4.22" >b) Inmovilizado intangible</text>
<text x="469.60" y="257.96" font-size="4.22" >c) Inmovilizado material</text>
<text x="469.60" y="263.69" font-size="4.22" >d) Inversiones inmobiliarias</text>
<text x="469.60" y="269.43" font-size="4.22" >e) Otros activos financieros</text>
<text x="469.60" y="275.17" font-size="4.22" >f) Activos no corrientes mantenidos para venta</text>
<text x="469.60" y="280.90" font-size="4.22" >g) Otros activos</text>
<text x="469.60" y="286.64" font-size="4.22" font-weight="bold" >8. Flujos de efectivo de las actividades de inversión (7-6)</text>
<text x="647.70" y="286.64" font-size="4.22" text-anchor="end" font-weight="bold" >0,00</text>
<text x="682.10" y="286.64" font-size="4.22" text-anchor="end" font-weight="bold" >-3.532,00</text>
<text x="469.60" y="292.38" font-size="4.22" font-weight="bold" >C) FLUJOS DE EFECTIVO ACTIVIDADES DE FINANCIACIÓN</text>
<text x="469.60" y="298.11" font-size="4.22" font-weight="bold" >9. Cobros y pagos por instrumentos de patrimonio</text>
<text x="647.70" y="298.11" font-size="4.22" text-anchor="end" font-weight="bold" >0,00</text>
<text x="682.10" y="298.11" font-size="4.22" text-anchor="end" font-weight="bold" >0,00</text>
<text x="469.60" y="303.85" font-size="4.22" >a) Emisión de instrumentos de patrimonio</text>
<text x="469.60" y="309.59" font-size="4.22" >b) Amortización de instrumentos de patrimonio</text>
<text x="469.60" y="315.33" font-size="4.22" >c) Adquisición de instrumentos de patrimonio propio</text>
<text x="469.60" y="321.06" font-size="4.22" >d) Enajenación de instrumentos de patrimonio propio</text>
<text x="469.60" y="326.80" font-size="4.22" >e) Subvenciones, donaciones y legados recibidos</text>
<text x="469.60" y="332.54" font-size="4.22" font-weight="bold" >10. Cobros y pagos por instrumentos de pasivo financiero</text>
<text x="647.70" y="332.54" font-size="4.22" text-anchor="end" font-weight="bold" >0,00</text>
<text x="682.10" y="332.54" font-size="4.22" text-anchor="end" font-weight="bold" >-98.199,44</text>
<text x="469.60" y="338.27" font-size="4.22" >a) Emisión</text>
<text x="469.60" y="344.01" font-size="4.22" >1. Obligaciones y valores similares (+)</text>
<text x="469.60" y="349.75" font-size="4.22" >2. Deudas con entidades de crédito (+)</text>
<text x="469.60" y="355.48" font-size="4.22" >3. Deudas con empresas del grupo y asociadas (+)</text>
<text x="469.60" y="361.22" font-size="4.22" >4. Otras deudas (+)</text>
<text x="469.60" y="366.96" font-size="4.22" >b) Devolución y amortización de</text>
<text x="469.60" y="372.70" font-size="4.22" >1. Obligaciones y valores similares (-)</text>
<text x="469.60" y="378.43" font-size="4.22" >2. Deudas con entidades de crédito (-)</text>
<text x="682.10" y="378.43" font-size="4.22" text-anchor="end" >-57.764,97</text>
<text x="469.60" y="384.17" font-size="4.22" >3. Deudas con empresas del grupo y asociadas (-)</text>
<text x="469.60" y="389.91" font-size="4.22" >4. Otras deudas ec. Lp (-)</text>
<text x="682.10" y="389.91" font-size="4.22" text-anchor="end" >-40.434,47</text>
<text x="469.60" y="395.64" font-size="4.22" font-weight="bold" >11. Pagos por dividendos y remune. de otros instru.. patrimonio</text>
<text x="469.60" y="401.38" font-size="4.22" >a) Dividendos (-)</text>
<text x="469.60" y="407.12" font-size="4.22" >b) Remuneración de otros instrumentos de patrimonio (-)</text>
<text x="469.60" y="412.85" font-size="4.22" font-weight="bold" >12. Flujos de efectivo actividades de financiación (+/-9+/-10-11)</text>
<text x="647.70" y="412.85" font-size="4.22" text-anchor="end" font-weight="bold" >0,00</text>
<text x="682.10" y="412.85" font-size="4.22" text-anchor="end" font-weight="bold" >-98.199,44</text>
<text x="469.60" y="418.59" font-size="4.22" font-weight="bold" >D) Efecto de las variaciones de los tipos de cambio</text>
<text x="469.60" y="424.33" font-size="4.22" font-weight="bold" >E) AUMENTO/DISMINUCIÓN NETA DEL EFECTIVO O EQUIVAL.</text>
<text x="469.60" y="430.07" font-size="4.22" font-weight="bold" >(+/-5+/-8+/-12+/-D)</text>
<text x="682.10" y="430.07" font-size="4.22" text-anchor="end" font-weight="bold" >17.551,15</text>
<text x="469.60" y="435.80" font-size="4.22" >Efectivo o equivalentes al comienzo del ejercicio</text>
<text x="682.10" y="435.80" font-size="4.22" text-anchor="end" font-weight="bold" >8.075,29</text>
<text x="469.60" y="441.54" font-size="4.22" >Efectivo o equivalentes al final del ejercicio</text>
<text x="647.70" y="441.54" font-size="4.22" text-anchor="end" font-weight="bold" >0,00</text>
<text x="682.10" y="441.54" font-size="4.22" text-anchor="end" font-weight="bold" >25.636,44</text>
<text x="236.80" y="46.92" font-size="3.82" fill="#222" >EMPRESA: PERONA SA</text>
<text x="419.50" y="46.92" font-size="3.82" text-anchor="middle" font-weight="bold" >2012</text>
<text x="458.60" y="46.92" font-size="3.82" text-anchor="end" font-weight="bold" >2011</text>
<text x="236.80" y="52.87" font-size="3.82" stroke-width="0.07">A) OPERACIONES CONTINUADAS</text>
<text x="236.80" y="59.62" font-size="3.82" font-weight="bold" >1.-Importe neto de la cifra de negocio</text>
<text x="433.20" y="59.62" font-size="3.82" text-anchor="end" font-weight="bold" >1.686.525,74</text>
<text x="458.90" y="59.62" font-size="3.82" text-anchor="end" font-weight="bold" >1.913.685,42</text>
<text x="261.10" y="65.36" font-size="3.82" fill="#222" stroke-width="0.05">a)Ventas.</text>
<text x="433.20" y="65.36" font-size="3.82" text-anchor="end" fill="#222" stroke-width="0.05">1.686.525,74</text>
<text x="458.90" y="65.36" font-size="3.82" text-anchor="end" fill="#222" stroke-width="0.05">1.913.685,42</text>
<text x="261.10" y="71.11" font-size="3.82" fill="#222" stroke-width="0.05">b) Prestaciones de servicios.</text>
<text x="236.80" y="76.85" font-size="3.82" font-weight="bold" >2.-Variación de existencias de productos terminados y en curso de fabricación</text>
<text x="236.80" y="82.60" font-size="3.82" font-weight="bold" >3.-Trabajos realizados por la empresa para su activo.</text>
<text x="236.80" y="88.34" font-size="3.82" font-weight="bold" >4.-Aprovisionamientos.</text>
<text x="433.20" y="88.34" font-size="3.82" text-anchor="end" font-weight="bold" >-1.133.028,86</text>
<text x="458.90" y="88.34" font-size="3.82" text-anchor="end" font-weight="bold" >-1.323.515,63</text>
<text x="261.10" y="94.09" font-size="3.82" fill="#222" stroke-width="0.05">a) Consumo de mercaderías.</text>
<text x="433.20" y="94.09" font-size="3.82" text-anchor="end" fill="#222" stroke-width="0.05">-1.132.007,06</text>
<text x="458.90" y="94.09" font-size="3.82" text-anchor="end" fill="#222" stroke-width="0.05">-1.314.618,43</text>
<text x="261.10" y="99.83" font-size="3.82" fill="#222" stroke-width="0.05">b) Consumo de materias primas y otras materias consumibles.</text>
<text x="433.20" y="99.83" font-size="3.82" text-anchor="end" fill="#222" stroke-width="0.05">-1.021,80</text>
<text x="458.90" y="99.83" font-size="3.82" text-anchor="end" fill="#222" stroke-width="0.05">-8.897,20</text>
<text x="261.10" y="105.58" font-size="3.82" fill="#222" stroke-width="0.05">c) Trabajos realizados por otras empresas.</text>
<text x="261.10" y="111.32" font-size="3.82" fill="#222" stroke-width="0.05">d) Deterioro de mercaderías, materias primas y otros aprovisionamientos.</text>
<text x="236.80" y="117.07" font-size="3.82" font-weight="bold" >5.- Otros ingresos de explotación.</text>
<text x="433.20" y="117.07" font-size="3.82" text-anchor="end" font-weight="bold" >0,00</text>
<text x="458.90" y="117.07" font-size="3.82" text-anchor="end" font-weight="bold" >8.161,70</text>
<text x="261.10" y="122.81" font-size="3.82" fill="#222" stroke-width="0.05">a) Ingresos accesorios y otros de gestión corriente.</text>
<text x="433.20" y="122.81" font-size="3.82" text-anchor="end" fill="#222" stroke-width="0.05">0,00</text>
<text x="458.90" y="122.81" font-size="3.82" text-anchor="end" fill="#222" stroke-width="0.05">8.161,70</text>
<text x="261.10" y="128.56" font-size="3.82" fill="#222" stroke-width="0.05">b) Subvenciones de explotación incorporadas al resultado del ejercicio</text>
<text x="433.20" y="128.56" font-size="3.82" text-anchor="end" fill="#222" stroke-width="0.05">0,00</text>
<text x="458.90" y="128.56" font-size="3.82" text-anchor="end" fill="#222" stroke-width="0.05">0,00</text>
<text x="236.80" y="134.30" font-size="3.82" font-weight="bold" >6.- Gastos de personal.</text>
<text x="433.20" y="134.30" font-size="3.82" text-anchor="end" font-weight="bold" >-297.034,76</text>
<text x="458.90" y="134.30" font-size="3.82" text-anchor="end" font-weight="bold" >-314.378,04</text>
<text x="261.10" y="140.05" font-size="3.82" fill="#222" stroke-width="0.05">a) Sueldos, salarios y asimilados.</text>
<text x="433.20" y="140.05" font-size="3.82" text-anchor="end" fill="#222" stroke-width="0.05">-230.526,66</text>
<text x="458.90" y="140.05" font-size="3.82" text-anchor="end" fill="#222" stroke-width="0.05">-242.676,62</text>
<text x="261.10" y="145.79" font-size="3.82" fill="#222" stroke-width="0.05">b) Cargas sociales.</text>
<text x="433.20" y="145.79" font-size="3.82" text-anchor="end" fill="#222" stroke-width="0.05">-66.508,10</text>
<text x="458.90" y="145.79" font-size="3.82" text-anchor="end" fill="#222" stroke-width="0.05">-71.701,42</text>
<text x="261.10" y="151.54" font-size="3.82" fill="#222" stroke-width="0.05">c) Provisiones.</text>
<text x="236.80" y="157.28" font-size="3.82" font-weight="bold" >7.- Otros gastos de explotación.</text>
<text x="433.20" y="157.28" font-size="3.82" text-anchor="end" font-weight="bold" >-207.340,83</text>
<text x="458.90" y="157.28" font-size="3.82" text-anchor="end" font-weight="bold" >-218.907,74</text>
<text x="261.10" y="163.03" font-size="3.82" fill="#222" stroke-width="0.05">a) Servicios exteriores.</text>
<text x="433.20" y="163.03" font-size="3.82" text-anchor="end" fill="#222" stroke-width="0.05">-201.573,51</text>
<text x="458.90" y="163.03" font-size="3.82" text-anchor="end" fill="#222" stroke-width="0.05">-212.778,84</text>
<text x="261.10" y="168.77" font-size="3.82" fill="#222" stroke-width="0.05">b) Tributos.</text>
<text x="433.20" y="168.77" font-size="3.82" text-anchor="end" fill="#222" stroke-width="0.05">-5.767,32</text>
<text x="458.90" y="168.77" font-size="3.82" text-anchor="end" fill="#222" stroke-width="0.05">-6.358,40</text>
<text x="261.10" y="174.52" font-size="3.82" fill="#222" stroke-width="0.05">c) Pérdidas, deterioro y variación de provisiones por operaciones comerciales.</text>
<text x="261.10" y="180.26" font-size="3.82" fill="#222" stroke-width="0.05">d) Otros gastos de gestión corriente</text>
<text x="458.90" y="180.26" font-size="3.82" text-anchor="end" fill="#222" stroke-width="0.05">229,50</text>
<text x="236.80" y="186.01" font-size="3.82" font-weight="bold" >8.- Amortización del inmovilizado</text>
<text x="433.20" y="186.01" font-size="3.82" text-anchor="end" font-weight="bold" >-23.489,82</text>
<text x="458.90" y="186.01" font-size="3.82" text-anchor="end" font-weight="bold" >-23.489,82</text>
<text x="236.80" y="191.75" font-size="3.82" font-weight="bold" >9.- Imputación de subvenciones de inmovilizado no financiero y otras.</text>
<text x="236.80" y="197.50" font-size="3.82" font-weight="bold" >10.- Excesos de provisiones.</text>
<text x="236.80" y="203.24" font-size="3.82" font-weight="bold" >11.- Deterioro y resultado por enajenaciones del inmovilizado.</text>
<text x="433.20" y="203.24" font-size="3.82" text-anchor="end" font-weight="bold" >0,00</text>
<text x="458.90" y="203.24" font-size="3.82" text-anchor="end" font-weight="bold" >0,00</text>
<text x="261.10" y="208.99" font-size="3.82" fill="#222" stroke-width="0.05">a) Deterioro y pérdidas.</text>
<text x="261.10" y="214.73" font-size="3.82" fill="#222" stroke-width="0.05">b) Resultados por enajenaciones y otras.</text>
<text x="236.80" y="219.84" font-size="3.3" fill="#222" stroke-width="0.05">11Bis. Resultados excepcionales</text>
<text x="433.20" y="220.02" font-size="3.82" text-anchor="end" fill="#222" stroke-width="0.05">0,00</text>
<text x="458.90" y="220.02" font-size="3.82" text-anchor="end" fill="#222" stroke-width="0.05">0,00</text>
<text x="236.80" y="225.77" font-size="3.82" stroke-width="0.07">A.1) RESULTADO DE EXPLOTACIÓN (1+2+3+4+5+6+7+8+9+10+11)</text>
<text x="433.20" y="225.77" font-size="3.82" text-anchor="end" stroke-width="0.07">25.631,35</text>
<text x="458.90" y="225.77" font-size="3.82" text-anchor="end" stroke-width="0.07">41.456,09</text>
<text x="236.80" y="231.92" font-size="3.82" font-weight="bold" >12.- Ingresos financieros.</text>
<text x="433.20" y="231.92" font-size="3.82" text-anchor="end" font-weight="bold" >5.526,09</text>
<text x="458.90" y="231.92" font-size="3.82" text-anchor="end" font-weight="bold" >717,48</text>
<text x="261.10" y="237.67" font-size="3.82" fill="#222" stroke-width="0.05">a) De participaciones en instrumentos de patrimonio.</text>
<text x="433.20" y="237.67" font-size="3.82" text-anchor="end" fill="#222" stroke-width="0.05">0,00</text>
<text x="357.00" y="243.41" font-size="3.82" fill="#222" stroke-width="0.05">a1) En empresas del grupo</text>
<text x="357.00" y="249.16" font-size="3.82" fill="#222" stroke-width="0.05">a2) En terceros.</text>
<text x="261.10" y="254.91" font-size="3.82" fill="#222" stroke-width="0.05">b) De valores negociables y otros instrumentos financieros.</text>
<text x="433.20" y="254.91" font-size="3.82" text-anchor="end" fill="#222" stroke-width="0.05">5.526,09</text>
<text x="458.90" y="254.91" font-size="3.82" text-anchor="end" fill="#222" stroke-width="0.05">717,48</text>
<text x="357.00" y="260.66" font-size="3.82" fill="#222" stroke-width="0.05">b1) De empresas del grupo</text>
<text x="357.00" y="266.41" font-size="3.82" fill="#222" stroke-width="0.05">b2) De terceros.</text>
<text x="433.20" y="266.41" font-size="3.82" text-anchor="end" fill="#222" stroke-width="0.05">5.526,09</text>
<text x="458.90" y="266.41" font-size="3.82" text-anchor="end" fill="#222" stroke-width="0.05">717,48</text>
<text x="236.80" y="272.15" font-size="3.82" font-weight="bold" >13.- Gastos financieros.</text>
<text x="433.20" y="272.15" font-size="3.82" text-anchor="end" font-weight="bold" >-28.994,21</text>
<text x="458.90" y="272.15" font-size="3.82" text-anchor="end" font-weight="bold" >-26.204,40</text>
<text x="261.10" y="277.90" font-size="3.82" fill="#222" stroke-width="0.05">a) Por deudas con empresas del grupo y asociadas.</text>
<text x="261.10" y="289.40" font-size="3.82" fill="#222" stroke-width="0.05">b) Por deudas con terceros.</text>
<text x="433.20" y="289.40" font-size="3.82" text-anchor="end" fill="#222" stroke-width="0.05">15.617,86</text>
<text x="458.90" y="289.40" font-size="3.82" text-anchor="end" fill="#222" stroke-width="0.05">16.121,14</text>
<text x="261.10" y="300.89" font-size="3.82" fill="#222" stroke-width="0.05">c) Por actualización de provisiones.</text>
<text x="261.10" y="312.39" font-size="3.82" fill="#222" stroke-width="0.05">d) Otros gastos financieros</text>
<text x="433.20" y="312.39" font-size="3.82" text-anchor="end" fill="#222" stroke-width="0.05">14.476,35</text>
<text x="458.90" y="312.39" font-size="3.82" text-anchor="end" fill="#222" stroke-width="0.05">10.083,27</text>
<text x="236.80" y="323.89" font-size="3.82" font-weight="bold" >14.- Variación del valor razonable en instrumentos financieros.</text>
<text x="433.20" y="323.89" font-size="3.82" text-anchor="end" font-weight="bold" >0,00</text>
<text x="458.90" y="323.89" font-size="3.82" text-anchor="end" font-weight="bold" >0,00</text>
<text x="261.10" y="329.63" font-size="3.82" fill="#222" stroke-width="0.05">a) Cartera de negociación y otros.</text>
<text x="261.10" y="335.38" font-size="3.82" fill="#222" stroke-width="0.05">b) Imputación al resultado del ejercicio por activos financieros disponibles para la venta</text>
<text x="236.80" y="341.13" font-size="3.82" font-weight="bold" >15.- Diferencias de cambio.</text>
<text x="433.20" y="341.13" font-size="3.82" text-anchor="end" font-weight="bold" >0,00</text>
<text x="458.90" y="341.13" font-size="3.82" text-anchor="end" font-weight="bold" >0,00</text>
<text x="236.80" y="346.88" font-size="3.82" font-weight="bold" >16.- Deterioro y resultado por enajenaciones de instrumentos financieros.</text>
<text x="433.20" y="346.88" font-size="3.82" text-anchor="end" font-weight="bold" >0,00</text>
<text x="458.90" y="346.88" font-size="3.82" text-anchor="end" font-weight="bold" >0,00</text>
<text x="261.10" y="352.63" font-size="3.82" fill="#222" stroke-width="0.05">a) Deterioros y pérdidas.</text>
<text x="261.10" y="358.37" font-size="3.82" fill="#222" stroke-width="0.05">b) Resultados por enajenaciones y otras.</text>
<text x="236.80" y="375.97" font-size="3.82" stroke-width="0.07">A.2) RESULTADO FINANCIERO (12+13+14+15+16)</text>
<text x="433.20" y="375.97" font-size="3.82" text-anchor="end" stroke-width="0.07">-23.468,12</text>
<text x="458.90" y="375.97" font-size="3.82" text-anchor="end" stroke-width="0.07">-25.486,92</text>
<text x="236.80" y="382.27" font-size="3.82" stroke-width="0.07">A.3) RESULTADO ANTES DE IMPUESTOS (A.1 + A.2)</text>
<text x="433.20" y="382.27" font-size="3.82" text-anchor="end" stroke-width="0.07">2.163,23</text>
<text x="458.90" y="382.27" font-size="3.82" text-anchor="end" stroke-width="0.07">15.969,09</text>
<text x="236.80" y="388.07" font-size="3.82" font-weight="bold" >17.- Impuestos sobre beneficios</text>
<text x="433.20" y="388.07" font-size="3.82" text-anchor="end" font-weight="bold" >540,81</text>
<text x="458.90" y="388.07" font-size="3.82" text-anchor="end" font-weight="bold" >3.992,27</text>
<text x="236.80" y="400.37" font-size="3.82" stroke-width="0.07">A.4) RESULTADO DEL EJERCICIO PROCEDENTE DE OPERACIONES CONTINUADAS (A.3+17)</text>
<text x="433.20" y="400.37" font-size="3.82" text-anchor="end" stroke-width="0.07">1.622,42</text>
<text x="458.90" y="400.37" font-size="3.82" text-anchor="end" stroke-width="0.07">11.976,82</text>
<text x="236.80" y="406.72" font-size="3.82" stroke-width="0.07">B) OPERACIONES INTERRUMPIDAS</text>
<text x="236.80" y="418.62" font-size="3.82" font-weight="bold" >18.- Resultado del ejercicio procedente de operaciones interrumpidas neto de los impuestos.</text>
<text x="236.80" y="424.82" font-size="3.82" stroke-width="0.07">A.5) RESULTADO DEL EJERCICIO (A.4+18)</text>
<text x="433.20" y="424.82" font-size="3.82" text-anchor="end" stroke-width="0.07">1.622,42</text>
<text x="458.90" y="424.82" font-size="3.82" text-anchor="end" stroke-width="0.07">11.976,82</text>
<clipPath id="ctop"><rect x="0" y="314.6" width="200" height="10"/></clipPath>
<text x="6.80" y="316.80" font-size="3.2" fill="#2a2a2a" clip-path="url(#ctop)" stroke-width="0.06">Caso 5: PERONA SA</text>
<text x="6.80" y="321.70" font-size="3.2" fill="#2a2a2a" stroke-width="0.06">Presenta el balance de situación y la cuenta de p y g adjuntos</text>
<text x="6.80" y="326.40" font-size="3.2" fill="#2a2a2a" stroke-width="0.06">Se pide elaborar el Estado de flujo de efectivo de 2012.</text>
<text x="6.80" y="336.10" font-size="3.2" fill="#2a2a2a" stroke-width="0.06">Todos los gastos e ingresos financieros son pagados y cobrados.</text>
<text x="6.80" y="345.50" font-size="3.2" fill="#2a2a2a" stroke-width="0.06">Otras cuentas financieras incluye una fianza.</text>
<text x="7.00" y="354.67" font-size="3.1" font-weight="bold" fill="#fff" stroke="none">Balance de situación</text>
<text x="7.00" y="359.67" font-size="3.55" font-weight="bold" >ACTIVO</text>
<text x="132.90" y="359.78" font-size="3.85" text-anchor="end" font-weight="bold" >2012</text>
<text x="174.95" y="359.78" font-size="3.85" text-anchor="end" font-weight="bold" >2011</text>
<text x="7.00" y="364.45" font-size="3.55" font-weight="bold" >A) ACTIVO NO CORRIENTE</text>
<text x="132.90" y="364.55" font-size="3.85" text-anchor="end" font-weight="bold" >417.804,42</text>
<text x="174.95" y="364.55" font-size="3.85" text-anchor="end" font-weight="bold" >440.134,34</text>
<text x="6.80" y="369.14" font-size="3.3" fill="#333" >I</text>
<text x="14.70" y="369.21" font-size="3.5" fill="#111" >Inmovilizado intangible</text>
<text x="132.90" y="369.33" font-size="3.85" text-anchor="end" font-weight="bold" >8.538,00</text>
<text x="174.95" y="369.33" font-size="3.85" text-anchor="end" font-weight="bold" >6.961,00</text>
<text x="34.00" y="374.04" font-size="2.8" text-anchor="end" fill="#333" stroke-width="0.08">1</text>
<text x="34.70" y="373.98" font-size="3.5" fill="#111" stroke-width="0.08">Patentes, licencias y marcas</text>
<text x="132.90" y="373.98" font-size="3.5" text-anchor="end" fill="#222" stroke-width="0.08">0,00</text>
<text x="174.95" y="373.98" font-size="3.5" text-anchor="end" fill="#222" stroke-width="0.08">0,00</text>
<text x="34.00" y="378.82" font-size="2.8" text-anchor="end" fill="#333" stroke-width="0.08">5</text>
<text x="34.70" y="378.76" font-size="3.5" fill="#111" stroke-width="0.08">Aplicaciones informáticas</text>
<text x="132.90" y="378.76" font-size="3.5" text-anchor="end" fill="#222" stroke-width="0.08">8.538,00</text>
<text x="174.95" y="378.76" font-size="3.5" text-anchor="end" fill="#222" stroke-width="0.08">6.961,00</text>
<text x="6.80" y="383.46" font-size="3.3" fill="#333" >II</text>
<text x="14.70" y="383.53" font-size="3.5" fill="#111" >Inmovilizado material</text>
<text x="132.90" y="383.65" font-size="3.85" text-anchor="end" font-weight="bold" >278.918,50</text>
<text x="174.95" y="383.65" font-size="3.85" text-anchor="end" font-weight="bold" >297.223,88</text>
<text x="34.00" y="388.37" font-size="2.8" text-anchor="end" fill="#333" stroke-width="0.08">1</text>
<text x="34.70" y="388.31" font-size="3.5" fill="#111" stroke-width="0.08">Terrenos y construcciones</text>
<text x="132.90" y="388.31" font-size="3.5" text-anchor="end" fill="#222" stroke-width="0.08">172.468,63</text>
<text x="174.95" y="388.31" font-size="3.5" text-anchor="end" fill="#222" stroke-width="0.08">175.263,67</text>
<text x="34.00" y="393.14" font-size="2.8" text-anchor="end" fill="#333" stroke-width="0.08">2</text>
<text x="34.70" y="393.08" font-size="3.5" fill="#111" stroke-width="0.08">Instalaciones técnicas y otro inmovilizado</text>
<text x="132.90" y="393.08" font-size="3.5" text-anchor="end" fill="#222" stroke-width="0.08">106.449,87</text>
<text x="174.95" y="393.08" font-size="3.5" text-anchor="end" fill="#222" stroke-width="0.08">121.960,13</text>
<text x="34.00" y="397.92" font-size="2.8" text-anchor="end" fill="#333" stroke-width="0.08">3</text>
<text x="34.70" y="397.86" font-size="3.5" fill="#111" stroke-width="0.08">Inmovilizado en curso y anticipos</text>
<text x="132.90" y="397.86" font-size="3.5" text-anchor="end" fill="#222" stroke-width="0.08">0,00</text>
<text x="174.95" y="397.86" font-size="3.5" text-anchor="end" fill="#222" stroke-width="0.08">0,00</text>
<text x="6.80" y="402.56" font-size="3.3" fill="#333" >III</text>
<text x="14.70" y="402.63" font-size="3.5" fill="#111" >Inversiones inmobiliarias</text>
<text x="132.90" y="402.75" font-size="3.85" text-anchor="end" font-weight="bold" >308.954,21</text>
<text x="174.95" y="402.75" font-size="3.85" text-anchor="end" font-weight="bold" >311.767,73</text>
<text x="34.00" y="407.47" font-size="2.8" text-anchor="end" fill="#333" stroke-width="0.08">1</text>
<text x="34.70" y="407.41" font-size="3.5" fill="#111" stroke-width="0.08">Terrenos</text>
<text x="132.90" y="407.41" font-size="3.5" text-anchor="end" fill="#222" stroke-width="0.08">80.704,52</text>
<text x="174.95" y="407.41" font-size="3.5" text-anchor="end" fill="#222" stroke-width="0.08">80.704,52</text>
<text x="34.00" y="412.24" font-size="2.8" text-anchor="end" fill="#333" stroke-width="0.08">2</text>
<text x="34.70" y="412.18" font-size="3.5" fill="#111" stroke-width="0.08">Construcciones</text>
<text x="132.90" y="412.18" font-size="3.5" text-anchor="end" fill="#222" stroke-width="0.08">226.249,69</text>
<text x="174.95" y="412.18" font-size="3.5" text-anchor="end" fill="#222" stroke-width="0.08">229.063,21</text>
<text x="6.80" y="416.89" font-size="3.3" fill="#333" >V</text>
<text x="14.70" y="416.96" font-size="3.5" fill="#111" >Inversiones financieras a largo plazo</text>
<text x="132.90" y="417.08" font-size="3.85" text-anchor="end" font-weight="bold" >21.631,71</text>
<text x="174.95" y="417.08" font-size="3.85" text-anchor="end" font-weight="bold" >21.631,71</text>
<text x="34.00" y="421.79" font-size="2.8" text-anchor="end" fill="#333" stroke-width="0.08">1</text>
<text x="34.70" y="421.73" font-size="3.5" fill="#111" stroke-width="0.08">Instrumentos de patrimonio</text>
<text x="132.90" y="421.73" font-size="3.5" text-anchor="end" fill="#222" stroke-width="0.08">966,21</text>
<text x="174.95" y="421.73" font-size="3.5" text-anchor="end" fill="#222" stroke-width="0.08">966,21</text>
<text x="34.00" y="426.57" font-size="2.8" text-anchor="end" fill="#333" stroke-width="0.08">5</text>
<text x="34.70" y="426.51" font-size="3.5" fill="#111" stroke-width="0.08">Otros activos financieros</text>
<text x="132.90" y="426.51" font-size="3.5" text-anchor="end" fill="#222" stroke-width="0.08">20.665,50</text>
<text x="174.95" y="426.51" font-size="3.5" text-anchor="end" fill="#222" stroke-width="0.08">20.665,50</text>
<text x="7.00" y="431.30" font-size="3.55" font-weight="bold" >B) ACTIVO CORRIENTE</text>
<text x="132.90" y="431.40" font-size="3.85" text-anchor="end" font-weight="bold" >590.937,68</text>
<text x="174.95" y="431.40" font-size="3.85" text-anchor="end" font-weight="bold" >587.743,12</text>
<text x="6.80" y="435.99" font-size="3.3" fill="#333" >I</text>
<text x="14.70" y="436.06" font-size="3.5" fill="#111" >Existencias</text>
<text x="132.90" y="436.18" font-size="3.85" text-anchor="end" font-weight="bold" >578.129,00</text>
<text x="174.95" y="436.18" font-size="3.85" text-anchor="end" font-weight="bold" >557.449,96</text>
<text x="34.00" y="440.89" font-size="2.8" text-anchor="end" fill="#333" stroke-width="0.08">1</text>
<text x="34.70" y="440.83" font-size="3.5" fill="#111" stroke-width="0.08">Comerciales</text>
<text x="132.90" y="440.83" font-size="3.5" text-anchor="end" fill="#222" stroke-width="0.08">570.024,00</text>
<text x="174.95" y="440.83" font-size="3.5" text-anchor="end" fill="#222" stroke-width="0.08">557.903,96</text>
<text x="34.00" y="445.67" font-size="2.8" text-anchor="end" fill="#333" stroke-width="0.08">2</text>
<text x="34.70" y="445.61" font-size="3.5" fill="#111" stroke-width="0.08">Mat.Primas y otros aprov.</text>
<text x="132.90" y="445.61" font-size="3.5" text-anchor="end" fill="#222" stroke-width="0.08">7.205,00</text>
<text x="174.95" y="445.61" font-size="3.5" text-anchor="end" fill="#222" stroke-width="0.08">0,00</text>
<text x="34.00" y="450.44" font-size="2.8" text-anchor="end" fill="#333" stroke-width="0.08">3</text>
<text x="34.70" y="450.38" font-size="3.5" fill="#111" stroke-width="0.08">Producto en curso</text>
<text x="132.90" y="450.38" font-size="3.5" text-anchor="end" fill="#222" stroke-width="0.08">0,00</text>
<text x="174.95" y="450.38" font-size="3.5" text-anchor="end" fill="#222" stroke-width="0.08">0,00</text>
<text x="34.00" y="455.22" font-size="2.8" text-anchor="end" fill="#333" stroke-width="0.08">4</text>
<text x="34.70" y="455.16" font-size="3.5" fill="#111" stroke-width="0.08">Producto terminado</text>
<text x="132.90" y="455.16" font-size="3.5" text-anchor="end" fill="#222" stroke-width="0.08">0,00</text>
<text x="174.95" y="455.16" font-size="3.5" text-anchor="end" fill="#222" stroke-width="0.08">0,00</text>
<text x="6.80" y="459.86" font-size="3.3" fill="#333" >II</text>
<text x="14.70" y="459.93" font-size="3.5" fill="#111" >Deudores comerciales y otras cuentas a cobrar</text>
<text x="132.90" y="460.05" font-size="3.85" text-anchor="end" font-weight="bold" >3.538,37</text>
<text x="174.95" y="460.05" font-size="3.85" text-anchor="end" font-weight="bold" >4.206,82</text>
<text x="34.00" y="464.77" font-size="2.8" text-anchor="end" fill="#333" stroke-width="0.08">1</text>
<text x="34.70" y="464.71" font-size="3.5" fill="#111" stroke-width="0.08">Clientes por ventas y prestaciones de</text>
<text x="132.90" y="464.71" font-size="3.5" text-anchor="end" fill="#222" stroke-width="0.08">2.009,94</text>
<text x="174.95" y="464.71" font-size="3.5" text-anchor="end" fill="#222" stroke-width="0.08">4.206,82</text>
<text x="34.00" y="469.54" font-size="2.8" text-anchor="end" fill="#333" stroke-width="0.08">3</text>
<text x="34.70" y="469.48" font-size="3.5" fill="#111" stroke-width="0.08">Deudores varios</text>
<text x="132.90" y="469.48" font-size="3.5" text-anchor="end" fill="#222" stroke-width="0.08">0,00</text>
<text x="174.95" y="469.48" font-size="3.5" text-anchor="end" fill="#222" stroke-width="0.08">0,00</text>
<text x="34.00" y="474.32" font-size="2.8" text-anchor="end" fill="#333" stroke-width="0.08">6</text>
<text x="34.70" y="474.26" font-size="3.5" fill="#111" stroke-width="0.08">Otros créditos con AAPP</text>
<text x="132.90" y="474.26" font-size="3.5" text-anchor="end" fill="#222" stroke-width="0.08">1.528,43</text>
<text x="174.95" y="474.26" font-size="3.5" text-anchor="end" fill="#222" stroke-width="0.08">0,00</text>
<text x="6.80" y="478.96" font-size="3.3" fill="#333" >VII</text>
<text x="14.70" y="479.03" font-size="3.5" fill="#111" >Efectivo y otros activos líquidos equivalentes</text>
<text x="132.90" y="479.15" font-size="3.85" text-anchor="end" font-weight="bold" >9.268,31</text>
<text x="174.95" y="479.15" font-size="3.85" text-anchor="end" font-weight="bold" >25.636,44</text>
<text x="34.00" y="483.87" font-size="2.8" text-anchor="end" fill="#333" stroke-width="0.08">1</text>
<text x="34.70" y="483.81" font-size="3.5" fill="#111" stroke-width="0.08">Tesorería</text>
<text x="132.90" y="483.81" font-size="3.5" text-anchor="end" fill="#222" stroke-width="0.08">9.268,31</text>
<text x="174.95" y="483.81" font-size="3.5" text-anchor="end" fill="#222" stroke-width="0.08">25.636,44</text>
<text x="80.60" y="488.58" font-size="3.5" text-anchor="end" font-weight="bold" >TOTAL GENERAL</text>
<text x="132.90" y="488.69" font-size="3.8" text-anchor="end" font-weight="bold" >1.307.961,10</text>
<text x="174.95" y="488.69" font-size="3.8" text-anchor="end" font-weight="bold" >1.328.367,46</text>
<text x="7.00" y="493.57" font-size="3.55" font-weight="bold" >PATRIMONIO NETO Y PASIVO</text>
<text x="132.90" y="493.68" font-size="3.85" text-anchor="end" font-weight="bold" >2012</text>
<text x="175.75" y="493.68" font-size="3.85" text-anchor="end" font-weight="bold" >2011</text>
<text x="7.00" y="498.43" font-size="3.55" font-weight="bold" >A) PATRIMONIO NETO</text>
<text x="132.90" y="498.54" font-size="3.85" text-anchor="end" font-weight="bold" >420.669,19</text>
<text x="175.75" y="498.54" font-size="3.85" text-anchor="end" font-weight="bold" >802.676,72</text>
<text x="6.80" y="503.20" font-size="3.3" fill="#333" >A-1)</text>
<text x="14.70" y="503.27" font-size="3.5" fill="#111" >Fondos propios</text>
<text x="132.90" y="503.39" font-size="3.85" text-anchor="end" font-weight="bold" >420.669,19</text>
<text x="175.75" y="503.39" font-size="3.85" text-anchor="end" font-weight="bold" >802.676,72</text>
<text x="6.80" y="508.06" font-size="3.3" fill="#333" >I</text>
<text x="14.70" y="508.13" font-size="3.5" fill="#111" >Capital</text>
<text x="132.90" y="508.13" font-size="3.5" text-anchor="end" fill="#333" >24.040,00</text>
<text x="175.75" y="508.13" font-size="3.5" text-anchor="end" fill="#333" >24.040,00</text>
<text x="34.00" y="513.05" font-size="2.8" text-anchor="end" fill="#333" stroke-width="0.08">1</text>
<text x="34.70" y="512.99" font-size="3.5" fill="#111" stroke-width="0.08">Capital escriturado</text>
<text x="132.90" y="512.99" font-size="3.5" text-anchor="end" fill="#222" stroke-width="0.08">24.040,00</text>
<text x="175.75" y="512.99" font-size="3.5" text-anchor="end" fill="#222" stroke-width="0.08">24.040,00</text>
<text x="6.80" y="517.78" font-size="3.3" fill="#333" >III</text>
<text x="14.70" y="517.85" font-size="3.5" fill="#111" >Reservas</text>
<text x="132.90" y="517.97" font-size="3.85" text-anchor="end" font-weight="bold" >395.006,77</text>
<text x="175.75" y="517.97" font-size="3.85" text-anchor="end" font-weight="bold" >383.029,95</text>
<text x="34.00" y="522.76" font-size="2.8" text-anchor="end" fill="#333" stroke-width="0.08">1</text>
<text x="34.70" y="522.71" font-size="3.5" fill="#111" stroke-width="0.08">Legal y estatutarias</text>
<text x="132.90" y="522.71" font-size="3.5" text-anchor="end" fill="#222" stroke-width="0.08">4.808,10</text>
<text x="175.75" y="522.71" font-size="3.5" text-anchor="end" fill="#222" stroke-width="0.08">4.808,10</text>
<text x="34.00" y="527.62" font-size="2.8" text-anchor="end" fill="#333" stroke-width="0.08">2</text>
<text x="34.70" y="527.56" font-size="3.5" fill="#111" stroke-width="0.08">Otras reservas</text>
<text x="132.90" y="527.56" font-size="3.5" text-anchor="end" fill="#222" stroke-width="0.08">390.198,67</text>
<text x="175.75" y="527.56" font-size="3.5" text-anchor="end" fill="#222" stroke-width="0.08">378.221,85</text>
<text x="6.80" y="532.35" font-size="3.3" fill="#333" >VII</text>
<text x="14.70" y="532.42" font-size="3.5" fill="#111" >Resultado del ejercicio</text>
<text x="132.90" y="532.42" font-size="3.5" text-anchor="end" fill="#333" >1.622,42</text>
<text x="175.75" y="532.42" font-size="3.5" text-anchor="end" fill="#333" >11.976,82</text>
<text x="6.80" y="537.21" font-size="3.3" fill="#333" >A-3)</text>
<text x="14.70" y="537.28" font-size="3.5" fill="#111" >Subvenciones, donaci…</text>
<text x="132.90" y="537.28" font-size="3.5" text-anchor="end" fill="#333" >0,00</text>
<text x="175.75" y="537.28" font-size="3.5" text-anchor="end" fill="#333" >0,00</text>
<text x="7.00" y="542.15" font-size="3.55" font-weight="bold" >B) PASIVO NO CORRIENTE</text>
<text x="132.90" y="542.26" font-size="3.85" text-anchor="end" font-weight="bold" >235.382,95</text>
<text x="175.75" y="542.26" font-size="3.85" text-anchor="end" font-weight="bold" >255.656,91</text>
<text x="6.80" y="546.93" font-size="3.3" fill="#333" >II</text>
<text x="14.70" y="547.00" font-size="3.5" fill="#111" >Deudas a largo plazo</text>
<text x="132.90" y="547.12" font-size="3.85" text-anchor="end" font-weight="bold" >235.382,95</text>
<text x="175.75" y="547.12" font-size="3.85" text-anchor="end" font-weight="bold" >255.656,91</text>
<text x="34.00" y="551.91" font-size="2.8" text-anchor="end" fill="#333" stroke-width="0.08">2</text>
<text x="34.70" y="551.85" font-size="3.5" fill="#111" stroke-width="0.08">Deudas con entidades de crédito</text>
<text x="132.90" y="551.85" font-size="3.5" text-anchor="end" fill="#222" stroke-width="0.08">233.582,95</text>
<text x="175.75" y="551.85" font-size="3.5" text-anchor="end" fill="#222" stroke-width="0.08">235.656,91</text>
<text x="34.00" y="556.77" font-size="2.8" text-anchor="end" fill="#333" stroke-width="0.08">5</text>
<text x="34.70" y="556.71" font-size="3.5" fill="#111" stroke-width="0.08">Otros pasivos financieros</text>
<text x="132.90" y="556.71" font-size="3.5" text-anchor="end" fill="#222" stroke-width="0.08">1.800,00</text>
<text x="175.75" y="556.71" font-size="3.5" text-anchor="end" fill="#222" stroke-width="0.08">0,00</text>
<text x="7.00" y="566.44" font-size="3.55" font-weight="bold" >PASIVO CORRIENTE</text>
<text x="132.90" y="566.55" font-size="3.85" text-anchor="end" font-weight="bold" >652.008,96</text>
<text x="175.75" y="566.55" font-size="3.85" text-anchor="end" font-weight="bold" >553.563,78</text>
<text x="6.80" y="571.22" font-size="3.3" fill="#333" >III</text>
<text x="14.70" y="571.29" font-size="3.5" fill="#111" >Deudas a corto plazo</text>
<text x="132.90" y="571.41" font-size="3.85" text-anchor="end" font-weight="bold" >171.081,50</text>
<text x="175.75" y="571.41" font-size="3.85" text-anchor="end" font-weight="bold" >193.083,50</text>
<text x="34.00" y="576.20" font-size="2.8" text-anchor="end" fill="#333" stroke-width="0.08">2</text>
<text x="34.70" y="576.14" font-size="3.5" fill="#111" stroke-width="0.08">Deudas con entidades de crédito</text>
<text x="132.90" y="576.14" font-size="3.5" text-anchor="end" fill="#222" stroke-width="0.08">171.081,50</text>
<text x="175.75" y="576.14" font-size="3.5" text-anchor="end" fill="#222" stroke-width="0.08">193.083,50</text>
<text x="34.00" y="581.06" font-size="2.8" text-anchor="end" fill="#333" stroke-width="0.08">3</text>
<text x="34.70" y="581.00" font-size="3.5" fill="#111" stroke-width="0.08">Otras deudas a corto plazo</text>
<text x="132.90" y="581.00" font-size="3.5" text-anchor="end" fill="#222" stroke-width="0.08">0,00</text>
<text x="175.75" y="581.00" font-size="3.5" text-anchor="end" fill="#222" stroke-width="0.08">0,00</text>
<text x="34.00" y="585.92" font-size="2.8" text-anchor="end" fill="#333" stroke-width="0.08">5</text>
<text x="34.70" y="585.86" font-size="3.5" fill="#111" stroke-width="0.08">Otros pasivos financieros</text>
<text x="132.90" y="585.86" font-size="3.5" text-anchor="end" fill="#222" stroke-width="0.08">0,00</text>
<text x="175.75" y="585.86" font-size="3.5" text-anchor="end" fill="#222" stroke-width="0.08">0,00</text>
<text x="6.80" y="590.65" font-size="3.3" fill="#333" >V</text>
<text x="14.70" y="590.72" font-size="3.5" fill="#111" >Acreedores comerciales y otras cuentas a pagar</text>
<text x="132.90" y="590.84" font-size="3.85" text-anchor="end" font-weight="bold" >380.928,46</text>
<text x="175.75" y="590.84" font-size="3.85" text-anchor="end" font-weight="bold" >360.480,28</text>
<text x="34.00" y="595.63" font-size="2.8" text-anchor="end" fill="#333" stroke-width="0.08">1</text>
<text x="34.70" y="595.58" font-size="3.5" fill="#111" stroke-width="0.08">Proveedores</text>
<text x="132.90" y="595.58" font-size="3.5" text-anchor="end" fill="#222" stroke-width="0.08">257.267,16</text>
<text x="175.75" y="595.58" font-size="3.5" text-anchor="end" fill="#222" stroke-width="0.08">206.650,24</text>
<text x="34.00" y="600.49" font-size="2.8" text-anchor="end" fill="#333" stroke-width="0.08">3</text>
<text x="34.70" y="600.43" font-size="3.5" fill="#111" stroke-width="0.08">Acreedores varios</text>
<text x="132.90" y="600.43" font-size="3.5" text-anchor="end" fill="#222" stroke-width="0.08">91.252,14</text>
<text x="175.75" y="600.43" font-size="3.5" text-anchor="end" fill="#222" stroke-width="0.08">96.101,77</text>
<text x="34.00" y="605.35" font-size="2.8" text-anchor="end" fill="#333" stroke-width="0.08">5</text>
<text x="34.70" y="605.29" font-size="3.5" fill="#111" stroke-width="0.08">Pasivos por impuesto corriente</text>
<text x="132.90" y="605.29" font-size="3.5" text-anchor="end" fill="#222" stroke-width="0.08">208,30</text>
<text x="175.75" y="605.29" font-size="3.5" text-anchor="end" fill="#222" stroke-width="0.08">223,00</text>
<text x="34.00" y="610.21" font-size="2.8" text-anchor="end" fill="#333" stroke-width="0.08">6</text>
<text x="34.70" y="610.15" font-size="3.5" fill="#111" stroke-width="0.08">Otras deudas con las Administraciones</text>
<text x="132.90" y="610.15" font-size="3.5" text-anchor="end" fill="#222" stroke-width="0.08">32.199,86</text>
<text x="175.75" y="610.15" font-size="3.5" text-anchor="end" fill="#222" stroke-width="0.08">65.149,27</text>
<text x="80.60" y="615.01" font-size="3.5" text-anchor="end" font-weight="bold" >TOTAL GENERAL</text>
<text x="132.90" y="615.11" font-size="3.8" text-anchor="end" font-weight="bold" >1.307.961,10</text>
<text x="175.75" y="615.11" font-size="3.8" text-anchor="end" font-weight="bold" >1.853.357,41</text>
</g>
<g id="ink" filter="url(#sf)">
<circle cx="610.50" cy="29.54" r="1.45" fill="#1f6b3a"/>
<circle cx="648.70" cy="35.27" r="1.45" fill="#1f6b3a"/>
<line x1="610.50" y1="29.74" x2="648.70" y2="29.74" stroke="#1f6b3a" stroke-width="0.6"/>
<line x1="621.50" y1="35.18" x2="638.50" y2="35.18" stroke="#1f6b3a" stroke-width="0.7"/>
<text x="616.00" y="34.55" font-size="5.2" font-style="italic" fill="#2428bd" stroke="#2428bd" stroke-width="0.27" >2.163,23</text>
<line x1="615.50" y1="33.06" x2="635.50" y2="33.06" stroke="#2428bd" stroke-width="0.6"/>
<text x="614.00" y="40.18" font-size="4.9" font-style="italic" fill="#2428bd" stroke="#2428bd" stroke-width="0.27" >118.953,04</text>
<text x="613.50" y="46.02" font-size="5.2" font-style="italic" fill="#2428bd" stroke="#2428bd" stroke-width="0.27" >23.489,82</text>
<text x="615.00" y="80.58" font-size="5.6" font-style="italic" fill="#2428bd" stroke="#2428bd" stroke-width="0.27" >– 5526,09</text>
<text x="615.00" y="86.32" font-size="5.6" font-style="italic" fill="#2428bd" stroke="#2428bd" stroke-width="0.27" >28 994,21</text>
<text x="614.00" y="109.13" font-size="5.2" font-style="italic" fill="#2428bd" stroke="#2428bd" stroke-width="0.27" >105.1.59</text>
<text x="614.00" y="114.87" font-size="5.2" font-style="italic" fill="#2428bd" stroke="#2428bd" stroke-width="0.27" >– 20225.04</text>
<text x="616.00" y="120.81" font-size="5.8" font-style="italic" fill="#2428bd" stroke="#2428bd" stroke-width="0.27" >2204,88</text>
<text x="614.50" y="126.41" font-size="5.4" font-style="italic" fill="#2428bd" stroke="#2428bd" stroke-width="0.27" >– 1528,43</text>
<text x="613.00" y="132.15" font-size="5.4" font-style="italic" fill="#2428bd" stroke="#2428bd" stroke-width="0.27" >63 511,29</text>
<text x="612.00" y="137.82" font-size="5.2" font-style="italic" fill="#2428bd" stroke="#2428bd" stroke-width="0.27" >– 52979,11</text>
<text x="613.00" y="149.19" font-size="4.9" font-style="italic" fill="#2428bd" stroke="#2428bd" stroke-width="0.27" >–23.848,03</text>
<text x="613.00" y="155.03" font-size="5.2" font-style="italic" fill="#2428bd" stroke="#2428bd" stroke-width="0.27" >– 28 994,21</text>
<text x="613.90" y="166.85" font-size="6.2" font-style="italic" fill="#2428bd" stroke="#2428bd" stroke-width="0.27" textLength="29" lengthAdjust="spacingAndGlyphs">+5526,09</text>
<text x="613.50" y="172.58" font-size="6.2" font-style="italic" fill="#2428bd" stroke="#2428bd" stroke-width="0.27" textLength="26.5" lengthAdjust="spacingAndGlyphs">– 690.81</text>
<text x="615.30" y="362.18" font-size="7.0" font-style="italic" fill="#2428bd" stroke="#2428bd" stroke-width="0.27" textLength="20.5" lengthAdjust="spacingAndGlyphs">1760</text>
<text x="612.50" y="378.98" font-size="5.8" font-style="italic" fill="#2428bd" stroke="#2428bd" stroke-width="0.27" >– 44075,96</text>
<text x="612.50" y="413.40" font-size="5.8" font-style="italic" fill="#2428bd" stroke="#2428bd" stroke-width="0.27" >–42315,96</text>
<text x="613.00" y="430.61" font-size="5.8" font-style="italic" fill="#2428bd" stroke="#2428bd" stroke-width="0.27" >– 16 367,13</text>
<text x="617.00" y="436.35" font-size="5.8" font-style="italic" fill="#2428bd" stroke="#2428bd" stroke-width="0.27" >25 636,44</text>
<text x="618.00" y="442.02" font-size="5.6" font-style="italic" fill="#2428bd" stroke="#2428bd" stroke-width="0.27" >9 268,31</text>
<line x1="683.10" y1="170.44" x2="687.60" y2="170.44" stroke="#2428bd" stroke-width="0.7"/>
<text x="687.80" y="172.49" font-size="6.5" font-style="italic" fill="#2428bd" textLength="16.0" lengthAdjust="spacingAndGlyphs" stroke="#2428bd" stroke-width="0.27">• BMP</text>
<text x="706.70" y="172.49" font-size="6.5" font-style="italic" fill="#2428bd" textLength="55.3" lengthAdjust="spacingAndGlyphs" stroke="#2428bd" stroke-width="0.27">+ Impuesto s/bene b° =</text>
<text x="765.00" y="172.49" font-size="6.5" font-style="italic" fill="#2428bd" textLength="14.0" lengthAdjust="spacingAndGlyphs" stroke="#2428bd" stroke-width="0.27">– 150</text>
<text x="784.80" y="172.49" font-size="6.5" font-style="italic" fill="#2428bd" textLength="25.7" lengthAdjust="spacingAndGlyphs" stroke="#2428bd" stroke-width="0.27">– 540,81</text>
<text x="817.80" y="172.49" font-size="6.5" font-style="italic" fill="#2428bd" textLength="25.5" lengthAdjust="spacingAndGlyphs" stroke="#2428bd" stroke-width="0.27">= –690,81</text>
<line x1="176.50" y1="434.10" x2="180.60" y2="434.10" stroke="#2428bd" stroke-width="0.7"/>
<path d="M180.30,433.10 L182.50,434.10 L180.30,435.10 Z" fill="#2428bd"/>
<text x="185.00" y="435.23" font-size="5.6" font-style="italic" fill="#2428bd" stroke="#2428bd" stroke-width="0.27">– 20 225,04</text>
<line x1="176.50" y1="462.20" x2="180.60" y2="462.20" stroke="#2428bd" stroke-width="0.7"/>
<path d="M180.30,461.20 L182.50,462.20 L180.30,463.20 Z" fill="#2428bd"/>
<text x="183.50" y="463.59" font-size="5.2" font-style="italic" fill="#2428bd" stroke="#2428bd" stroke-width="0.27">+2 204,88</text>
<line x1="177.00" y1="550.40" x2="182.50" y2="550.40" stroke="#2428bd" stroke-width="0.7"/>
<path d="M182.20,549.40 L184.40,550.40 L182.20,551.40 Z" fill="#2428bd"/>
<text x="190.00" y="551.80" font-size="5.8" font-style="italic" fill="#2428bd" stroke="#2428bd" stroke-width="0.27" textLength="25" lengthAdjust="spacingAndGlyphs">–2207396</text>
<line x1="177.00" y1="574.80" x2="182.50" y2="574.80" stroke="#2428bd" stroke-width="0.7"/>
<path d="M182.20,573.80 L184.40,574.80 L182.20,575.80 Z" fill="#2428bd"/>
<text x="189.00" y="577.07" font-size="6.0" font-style="italic" fill="#2428bd" stroke="#2428bd" stroke-width="0.27" textLength="23" lengthAdjust="spacingAndGlyphs">–22 002</text>
<path d="M219.2,547.8 C217.9,551 218.0,556 218.3,559.2 L221.4,558.6 M218.3,559.2 C217.8,565 218.4,572 219.2,577.5" stroke="#2428bd" stroke-width="0.75" fill="none"/>
<text x="222.50" y="560.64" font-size="5.9" font-style="italic" fill="#2428bd" stroke="#2428bd" stroke-width="0.27">–44075,96</text>
<line x1="177.00" y1="593.40" x2="180.00" y2="593.40" stroke="#2428bd" stroke-width="0.7"/>
<path d="M179.70,592.40 L181.90,593.40 L179.70,594.40 Z" fill="#2428bd"/>
<text x="182.50" y="594.29" font-size="4.9" font-style="italic" fill="#2428bd" stroke="#2428bd" stroke-width="0.27">+51416,92</text>
<line x1="208.60" y1="589.50" x2="208.60" y2="596.30" stroke="#2428bd" stroke-width="0.7"/>
<text x="211.50" y="594.09" font-size="5.2" font-style="italic" fill="#2428bd" stroke="#2428bd" stroke-width="0.27">53511,29</text>
<line x1="177.00" y1="598.60" x2="180.00" y2="598.60" stroke="#2428bd" stroke-width="0.7"/>
<path d="M179.70,597.60 L181.90,598.60 L179.70,599.60 Z" fill="#2428bd"/>
<text x="185.20" y="599.73" font-size="5.0" font-style="italic" fill="#2428bd" stroke="#2428bd" stroke-width="0.27" textLength="21.5" lengthAdjust="spacingAndGlyphs">–4089,63</text>
<line x1="209.30" y1="595.80" x2="209.30" y2="600.00" stroke="#2428bd" stroke-width="0.7"/>
<line x1="177.00" y1="603.80" x2="180.50" y2="603.80" stroke="#2428bd" stroke-width="0.7"/>
<path d="M180.20,602.80 L182.40,603.80 L180.20,604.80 Z" fill="#2428bd"/>
<text x="188.60" y="605.02" font-size="5.0" font-style="italic" fill="#2428bd" stroke="#2428bd" stroke-width="0.27" textLength="8.8" lengthAdjust="spacingAndGlyphs">–150</text>
<line x1="178.00" y1="608.60" x2="183.50" y2="608.60" stroke="#2428bd" stroke-width="0.7"/>
<path d="M183.20,607.60 L185.40,608.60 L183.20,609.60 Z" fill="#2428bd"/>
<text x="188.50" y="610.36" font-size="5.4" font-style="italic" fill="#2428bd" stroke="#2428bd" stroke-width="0.27">– 52979,11</text>
</g>
</svg>
</body>
</html>
